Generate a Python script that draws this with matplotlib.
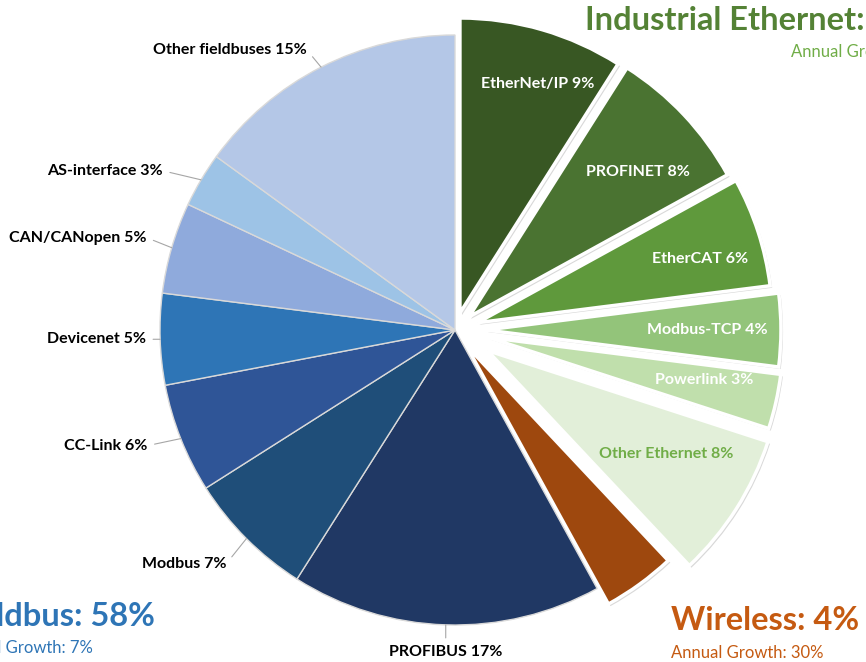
import numpy as np
import matplotlib
matplotlib.use("Agg")
import matplotlib.pyplot as plt
import matplotlib.patheffects as pe

# shares in %, clockwise from 12 o'clock
names = ["EtherNet/IP", "PROFINET", "EtherCAT", "Modbus-TCP", "Powerlink", "Other Ethernet",
         "Wireless",
         "PROFIBUS", "Modbus", "CC-Link", "Devicenet", "CAN/CANopen", "AS-interface", "Other fieldbuses"]
shares = [9, 8, 6, 4, 3, 8, 4, 17, 7, 6, 5, 5, 3, 15]
groups = ["eth"] * 6 + ["wl"] + ["fb"] * 7

colors = ["#385723", "#4a7331", "#5f993c", "#93c47a", "#c0dfac", "#e2efd9",
          "#9e480e",
          "#203864", "#1f4e79", "#2f5597", "#2e75b6", "#8faadc", "#9dc3e6", "#b4c7e7"]
explode = [0.06, 0.065, 0.08, 0.105, 0.115, 0.13, 0.065, 0, 0, 0, 0, 0, 0, 0]

eth_share = sum(s for s, g in zip(shares, groups) if g == "eth")
fb_share = sum(s for s, g in zip(shares, groups) if g == "fb")
wl_share = sum(s for s, g in zip(shares, groups) if g == "wl")

plt.rcParams['font.family'] = ['Lato', 'DejaVu Sans']

W, H = 866, 662
fig = plt.figure(figsize=(W / 100, H / 100), dpi=100)
ax = fig.add_axes([0, 0, 1, 1])

# pie centre and radius in pixels
cx, cy, R = 455, 330, 295

wedges, _ = ax.pie(shares, colors=colors, explode=explode, startangle=90, counterclock=False,
                   radius=1, wedgeprops=dict(linewidth=1, edgecolor="#d9d9d9"))
for w, g in zip(wedges, groups):
    if g != "fb":
        w.set_edgecolor("white")
        w.set_linewidth(2.5)
        w.set_path_effects([pe.SimplePatchShadow(offset=(1.5, -1.5), shadow_rgbFace="#bfbfbf", alpha=0.6),
                            pe.Normal()])

ax.set_xlim(-cx / R, (W - cx) / R)
ax.set_ylim(-(H - cy) / R, cy / R)
ax.set_aspect("auto")
ax.axis("off")

# labels inside the ethernet wedges (radius fraction, angle nudge in degrees)
inner_r = [0.82, 0.755, 0.785, 0.75, 0.745, 0.70]
inner_dth = [-2.5, -2.6, -2.0, 0, 1.4, 2.3]
inner_col = ["white"] * 5 + ["#70ad47"]
for i in range(6):
    w = wedges[i]
    th = np.deg2rad((w.theta1 + w.theta2) / 2 + inner_dth[i])
    x0, y0 = w.center
    ax.text(x0 + inner_r[i] * np.cos(th), y0 + inner_r[i] * np.sin(th),
            f"{names[i]} {shares[i]}%", color=inner_col[i], fontsize=11.5,
            fontweight="bold", ha="center", va="center")

# outer labels for the fieldbus wedges, offsets in pixels from the rim point
offsets = {"PROFIBUS": (0, -27), "Modbus": (-20, -25), "CC-Link": (-33, -7),
           "Devicenet": (-14, 0), "CAN/CANopen": (-25, 10), "AS-interface": (-38, 9),
           "Other fieldbuses": (-14, 17)}
for i in range(7, 14):
    w = wedges[i]
    th = np.deg2rad((w.theta1 + w.theta2) / 2)
    px, py = np.cos(th), np.sin(th)
    dx, dy = offsets[names[i]]
    ha = "center" if dx == 0 else "right"
    ax.annotate(f"{names[i]} {shares[i]}%", xy=(px, py), xytext=(dx, dy),
                textcoords="offset pixels", ha=ha, va="center", fontsize=11.5,
                fontweight="bold", color="black",
                arrowprops=dict(arrowstyle="-", color="#a6a6a6", lw=0.8,
                                shrinkA=3, shrinkB=0, relpos=(1, 0.5) if dx else (0.5, 1)))

# group headings (partly outside the frame, as in the original)
fig.text(585 / W, 1 - 21 / H, f"Industrial Ethernet: {eth_share}%", color="#548235",
         fontsize=23.5, fontweight="bold", ha="left", va="center")
fig.text(791 / W, 1 - 52 / H, "Annual Growth", color="#70ad47", fontsize=12,
         ha="left", va="center")

fig.text(155 / W, 1 - 616 / H, f"Fieldbus: {fb_share}%", color="#2e75b6",
         fontsize=23.5, fontweight="bold", ha="right", va="center")
fig.text(93 / W, 1 - 648 / H, "Annual Growth: 7%", color="#2e75b6", fontsize=12,
         ha="right", va="center")

fig.text(671 / W, 1 - 620 / H, f"Wireless: {wl_share}%", color="#c55a11",
         fontsize=23.5, fontweight="bold", ha="left", va="center")
fig.text(671 / W, 1 - 653 / H, "Annual Growth: 30%", color="#c55a11", fontsize=12,
         ha="left", va="center")

fig.savefig("out.png", dpi=100)
